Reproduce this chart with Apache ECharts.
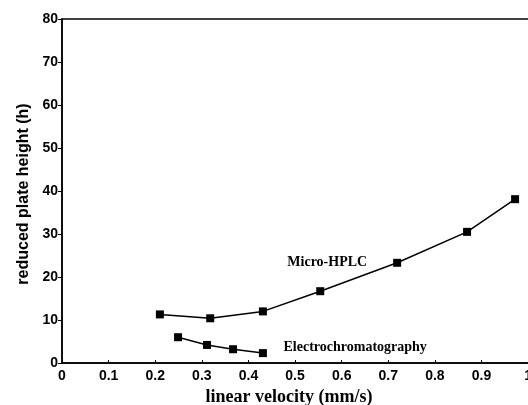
<!DOCTYPE html>
<html>
<head>
<meta charset="utf-8">
<script src="https://cdn.jsdelivr.net/npm/echarts@6/dist/echarts.min.js"></script>
<style>
  html, body { margin: 0; padding: 0; background: #fff; }
  #main { width: 528px; height: 405px; }
</style>
</head>
<body>
<div id="main"></div>
<script>
// data
var xTicks = [0, 0.1, 0.2, 0.3, 0.4, 0.5, 0.6, 0.7, 0.8, 0.9, 1];
var hplcX = [0.21, 0.318, 0.431, 0.554, 0.719, 0.869, 0.972];
var hplcY = [11.3, 10.4, 12.0, 16.7, 23.3, 30.5, 38.1];
var ecX = [0.249, 0.311, 0.367, 0.431];
var ecY = [6.0, 4.2, 3.2, 2.3];
var labels = ["Micro-HPLC", "Electrochromatography"];

function pairs(xs, ys) {
  return xs.map(function (x, i) { return [x, ys[i]]; });
}

var chart = echarts.init(document.getElementById("main"));

var tickFont = { color: "#000", fontFamily: "Liberation Sans", fontWeight: "bold", fontSize: 14 };
var noteFont = { color: "#000", fontFamily: "Liberation Serif", fontWeight: "bold", fontSize: 14 };

var option = {
  animation: false,
  grid: {
    left: 62, top: 19, right: -2, bottom: 42,
    outerBoundsMode: "none",
    show: true, borderColor: "#000", borderWidth: 1.5
  },
  xAxis: {
    type: "value", min: 0, max: 1.004, interval: 0.1,
    name: "linear velocity (mm/s)", nameLocation: "middle", nameGap: 22,
    nameTextStyle: { color: "#000", fontFamily: "Liberation Serif", fontWeight: "bold", fontSize: 18, padding: [0, 14, 0, 0] },
    axisLine: { lineStyle: { color: "#000", width: 1.5 } },
    axisTick: { inside: true, length: 3, lineStyle: { color: "#000" } },
    splitLine: { show: false },
    axisLabel: Object.assign({ margin: 6, formatter: function (v) {
      var r = Math.round(v * 10) / 10;
      return xTicks.indexOf(r) >= 0 ? String(r) : "";
    } }, tickFont)
  },
  yAxis: {
    type: "value", min: 0, max: 80, interval: 10,
    name: "reduced plate height (h)", nameLocation: "middle", nameGap: 30,
    nameTextStyle: { color: "#000", fontFamily: "Liberation Sans", fontWeight: "bold", fontSize: 16, padding: [0, 6, 0, 0] },
    axisLine: { lineStyle: { color: "#000", width: 1.5 } },
    axisTick: { length: 4, lineStyle: { color: "#000" } },
    splitLine: { show: false },
    axisLabel: Object.assign({ margin: 4 }, tickFont)
  },
  series: [
    {
      name: labels[0], type: "line", data: pairs(hplcX, hplcY),
      symbol: "rect", symbolSize: 8,
      lineStyle: { color: "#000", width: 1.5 },
      itemStyle: { color: "#000" },
      markPoint: {
        symbol: "circle", symbolSize: 1,
        itemStyle: { color: "rgba(0,0,0,0)" },
        data: [{ coord: [0.569, 23.3], value: 1 }],
        label: Object.assign({ show: true, position: "inside", formatter: labels[0] }, noteFont)
      }
    },
    {
      name: labels[1], type: "line", data: pairs(ecX, ecY),
      symbol: "rect", symbolSize: 8,
      lineStyle: { color: "#000", width: 1.5 },
      itemStyle: { color: "#000" },
      markPoint: {
        symbol: "circle", symbolSize: 1,
        itemStyle: { color: "rgba(0,0,0,0)" },
        data: [{ coord: [0.629, 3.7], value: 1 }],
        label: Object.assign({ show: true, position: "inside", formatter: labels[1] }, noteFont)
      }
    }
  ]
};

chart.setOption(option);
</script>
</body>
</html>
